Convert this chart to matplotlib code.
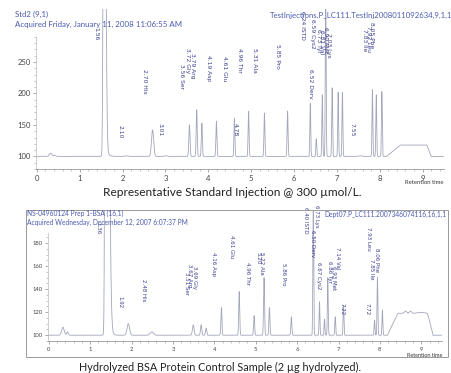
import numpy as np
import matplotlib
matplotlib.use('Agg')
import matplotlib.pyplot as plt
from matplotlib.patches import Rectangle
from matplotlib.ticker import MultipleLocator, FixedLocator

# ---- top panel: standard injection (retention time, height above baseline, sigma)
std_rt = [0.32, 0.42, 2.10, 2.70, 3.01, 3.56, 3.73, 3.85, 4.19, 4.61, 4.94, 5.31, 5.85,
          6.38, 6.52, 6.66, 6.74, 6.89, 7.03, 7.13, 7.55, 7.83, 7.92, 8.05]
std_height = [5, 2, 1, 42, 1, 50, 74, 53, 56, 61, 72, 69, 72,
              84, 28, 98, 260, 109, 102, 102, 1, 106, 98, 103]
std_sigma = [0.03, 0.02, 0.03, 0.025, 0.03, 0.014, 0.012, 0.012, 0.012, 0.011, 0.011, 0.011, 0.011,
             0.01, 0.01, 0.01, 0.01, 0.01, 0.01, 0.01, 0.03, 0.01, 0.01, 0.01]
std_void = (1.57, 1000)
std_plateau_t = [8.16, 8.48, 9.10, 9.20]
std_plateau_h = [0, 18, 18, 0]

std_labels = ["1.56", "2.10", "2.70 His", "3.01", "3.56 Ser", "3.72 Gly", "3.79 Arg", "4.19 Asp",
              "4.61 Glu", "4.78", "4.96 Thr", "5.31 Ala", "5.85 Pro", "6.24 ISTD", "6.52 Derv",
              "6.59 Cys2", "6.73 Tyr", "6.81 Val", "6.90 Met", "7.03 Lys", "7.55",
              "7.83 Ile", "7.92 Leu", "8.05 Phe"]
std_label_x = [1.38, 1.94, 2.52, 2.87, 3.38, 3.52, 3.64, 4.01, 4.39, 4.62, 4.74, 5.09, 5.62,
               6.21, 6.39, 6.44, 6.58, 6.65, 6.74, 6.81, 7.35, 7.65, 7.75, 7.82]
std_label_y = [295, 139, 219, 142, 227, 252, 244, 240, 239, 142, 252, 252, 258,
               308, 216, 295, 284, 281, 284, 276, 142, 284, 287, 292]

# ---- bottom panel: hydrolyzed BSA
bsa_rt = [0.34, 0.45, 1.92, 2.49, 3.49, 3.68, 3.80, 4.17, 4.60, 4.96, 5.20, 5.33, 5.86,
          6.39, 6.54, 6.66, 6.74, 6.92, 7.12, 7.87, 7.94, 8.06]
bsa_height = [7, 3, 10, 3, 9, 9, 6, 24, 38, 17, 50, 24, 16,
              115, 29, 14, 50, 16, 26, 13, 50, 22]
bsa_sigma = [0.03, 0.02, 0.03, 0.04, 0.02, 0.015, 0.015, 0.012, 0.012, 0.012, 0.012, 0.012, 0.012,
             0.01, 0.01, 0.01, 0.01, 0.01, 0.01, 0.01, 0.01, 0.01]
bsa_void = (1.38, 1000)
bsa_plateau_t = [8.18, 8.43, 8.55, 8.62, 8.68, 8.74, 8.80, 9.0, 9.15, 9.28]
bsa_plateau_h = [0, 19, 19, 21, 19, 21, 19, 20, 19, 1]

bsa_labels = ["1.36", "1.92", "2.48 His", "3.51 Ser", "3.67 Arg", "3.69 Gly", "4.16 Asp",
              "4.61 Glu", "4.96 Thr", "5.20", "5.22 Ala", "5.86 Pro", "6.40 ISTD", "6.73 Lys",
              "6.50 Derv", "6.67 Cys2", "6.86 Tyr", "6.93 Met", "7.14 Val", "7.22",
              "7.93 Leu", "7.85 Ile", "8.06 Phe", "7.72"]
bsa_label_x = [1.19, 1.72, 2.28, 3.32, 3.41, 3.51, 3.97, 4.41, 4.79, 5.06, 5.13, 5.67, 6.20, 6.46,
               6.37, 6.51, 6.78, 6.88, 6.97, 7.09, 7.72, 7.80, 7.92, 7.70]
bsa_label_y = [193, 129, 139, 145, 152, 150, 162, 177, 154, 167, 162, 153, 200, 203,
               180, 152, 155, 150, 167, 123, 184, 157, 165, 123]

TRACE = '#a2a6bb'
LABEL = '#3b3f8e'
HEAD = '#4a5ab0'


def trace(t, rts, heights, sigmas, void, pt, ph, tail_s):
    y = np.full_like(t, 100.0)
    for r, h, s in zip(rts, heights, sigmas):
        y += h * np.exp(-0.5 * ((t - r) / s) ** 2)
    mu, hv = void
    left = hv * np.exp(-0.5 * ((t - mu) / 0.018) ** 2)
    right = hv * np.exp(-0.5 * ((t - mu) / tail_s) ** 2) + 25 * np.exp(-np.clip(t - mu, 0, None) / 0.05)
    y += np.where(t < mu, left, right)
    y += np.interp(t, pt, ph, left=0, right=0)
    return y


def style_axes(ax, ylo, yhi, ymajor, yminor, ytop, fs):
    for s in ['top', 'right']:
        ax.spines[s].set_visible(False)
    ax.spines['left'].set_color('#bbbbbb')
    ax.spines['left'].set_linewidth(0.5)
    ax.spines['left'].set_bounds(ylo, ytop)
    ax.spines['bottom'].set_color('#999999')
    ax.spines['bottom'].set_linewidth(0.6)
    ax.set_xticks(range(10))
    ax.xaxis.set_minor_locator(MultipleLocator(0.2))
    ax.yaxis.set_major_locator(FixedLocator(ymajor))
    ax.yaxis.set_minor_locator(FixedLocator(np.arange(ylo, ytop + 0.1, yminor)))
    ax.tick_params(which='major', length=2.5, width=0.5, color='#888888', labelsize=fs,
                   labelcolor='#444444', pad=1.5)
    ax.tick_params(which='minor', length=1.2, width=0.4, color='#999999')
    ax.set_ylim(ylo, yhi)


fig = plt.figure(figsize=(4.52, 3.73), dpi=100)
plt.rcParams['font.family'] = ['Lato', 'DejaVu Sans']

t = np.linspace(-0.02, 9.5, 6000)

# top panel
ax1 = fig.add_axes([36 / 452, 1 - 169 / 373, 408 / 452, 160 / 373])
ax1.plot(t, trace(t, std_rt, std_height, std_sigma, std_void, std_plateau_t, std_plateau_h, 0.03),
         color=TRACE, lw=0.6)
ax1.set_xlim(-0.02, 9.5)
style_axes(ax1, 80, 334, [100, 150, 200, 250], 10, 290, 5.5)
for s, x, y in zip(std_labels, std_label_x, std_label_y):
    ax1.text(x, y, s, rotation=-90, ha='center', va='center', fontsize=4.3, color=LABEL,
             family='DejaVu Sans')
ax1.text(9.48, 58, "Retention time", ha='right', va='center', fontsize=4.2, color='#333333',
         clip_on=False)

fig.text(15 / 452, 1 - 14 / 373, "Std2 (9,1)", fontsize=5.7, color=HEAD, va='center')
fig.text(15 / 452, 1 - 24 / 373, "Acquired Friday, January 11, 2008 11:06:55 AM", fontsize=5.7,
         color=HEAD, va='center')
fig.text(1.0, 1 - 15 / 373, "TestInjections.P_LC111.TestInj2008011092634,9,1,1", fontsize=5.6,
         color=HEAD, va='center', ha='right')
fig.text(232 / 452, 1 - 192 / 373, "Representative Standard Injection @ 300 \u00b5mol/L.",
         fontsize=8.6, color='#222222', ha='center', va='center')

# bottom panel
fig.patches.append(Rectangle((26 / 452, 1 - 357 / 373), 422 / 452, 147 / 373,
                             transform=fig.transFigure, fill=False, ec='#999999', lw=0.7))
ax2 = fig.add_axes([48 / 452, 1 - 341 / 373, 394 / 452, 131 / 373])
ax2.plot(t, trace(t, bsa_rt, bsa_height, bsa_sigma, bsa_void, bsa_plateau_t, bsa_plateau_h, 0.05),
         color=TRACE, lw=0.6)
ax2.set_xlim(-0.02, 9.5)
style_axes(ax2, 95, 208.7, [100, 120, 140, 160, 180], 5, 189, 4.2)
for s, x, y in zip(bsa_labels, bsa_label_x, bsa_label_y):
    ax2.text(x, y, s, rotation=-90, ha='center', va='center', fontsize=4.0, color=LABEL,
             family='DejaVu Sans')
ax2.text(9.5, 82, "Retention time", ha='right', va='center', fontsize=4.0, color='#333333',
         clip_on=False)

fig.text(27 / 452, 1 - 213 / 373, "NS-04960124 Prep 1-BSA (16,1)", fontsize=4.8, color=HEAD,
         va='center')
fig.text(27 / 452, 1 - 222 / 373, "Acquired Wednesday, December 12, 2007 6:07:37 PM", fontsize=4.8,
         color=HEAD, va='center')
fig.text(447 / 452, 1 - 214 / 373, "Dept07.P_LC111.2007346074116,16,1,1", fontsize=4.8,
         color=HEAD, va='center', ha='right')
fig.text(220 / 452, 1 - 367 / 373, "Hydrolyzed BSA Protein Control Sample (2 \u00b5g hydrolyzed).",
         fontsize=7.8, color='#222222', ha='center', va='center')

fig.savefig('out.png', dpi=100)
